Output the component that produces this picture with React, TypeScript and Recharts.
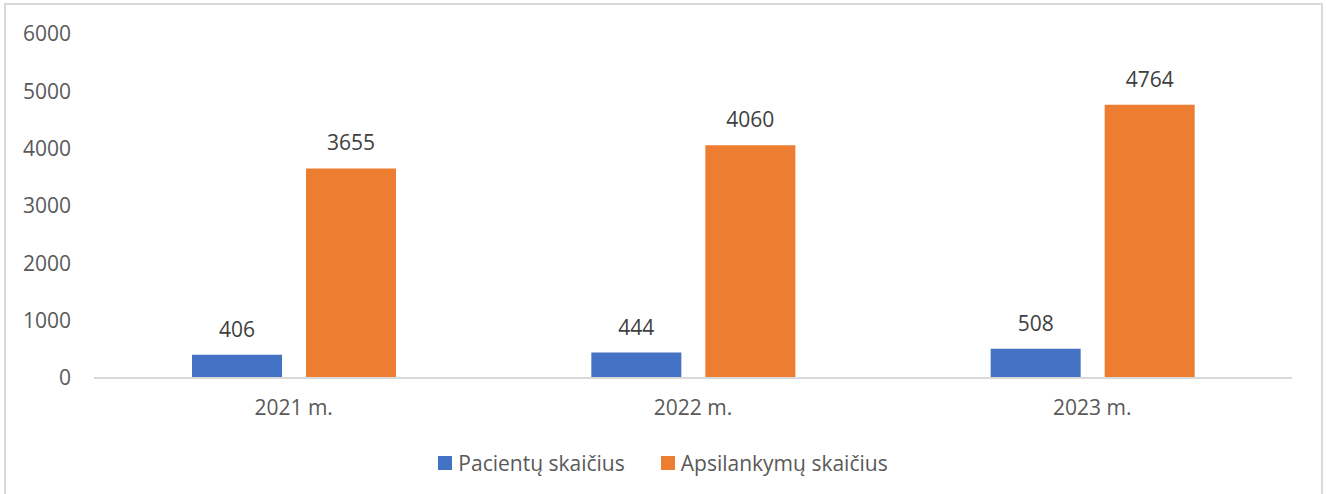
import React from 'react';
import { BarChart, Bar, XAxis, YAxis, Legend, LabelList } from 'recharts';

const categories = ['2021 m.', '2022 m.', '2023 m.'];
const patients = [406, 444, 508];
const visits = [3655, 4060, 4764];
const yTicks = [0, 1000, 2000, 3000, 4000, 5000, 6000];
const seriesNames = ['Pacientų skaičius', 'Apsilankymų skaičius'];
const seriesColors = ['#4472C4', '#ED7D31'];

const data = categories.map((c, i) => ({ name: c, a: patients[i], b: visits[i] }));

const FONT = '"Open Sans", sans-serif';
const FS = 21;

const LegendContent = () => {
  return (
    <div style={{ display: 'flex', justifyContent: 'center', alignItems: 'center', height: 30, fontFamily: FONT, fontSize: FS, color: '#595959' }}>
      {seriesNames.map((n, i) => (
        <div key={i} style={{ display: 'flex', alignItems: 'center', marginLeft: i === 0 ? 0 : 36 }}>
          <div style={{ width: 14, height: 14, background: seriesColors[i], marginRight: 6 }} />
          <span>{n}</span>
        </div>
      ))}
    </div>
  );
};

export default function App() {
  return (
    <div style={{ position: 'absolute', left: 0, top: 0, width: 1326, height: 494, overflow: 'hidden', background: '#fff' }}>
      <div style={{ position: 'absolute', left: 4, top: 3, width: 1319, height: 520, border: '2px solid #d9d9d9', boxSizing: 'border-box' }} />
      <div style={{ position: 'absolute', left: 0, top: 0 }}>
        <BarChart width={1326} height={494} data={data} margin={{ top: 34, right: 34, left: 0, bottom: 46 }} barSize={90} barGap={24}>
          <XAxis dataKey="name" height={40} axisLine={{ stroke: '#d9d9d9', strokeWidth: 2 }} tickLine={false} tickSize={0} tickMargin={22}
            tick={{ fill: '#595959', fontSize: FS, fontFamily: FONT }} />
          <YAxis width={94} domain={[0, 6000]} ticks={yTicks} axisLine={false} tickLine={false} tickSize={0} tickMargin={23}
            tick={{ fill: '#595959', fontSize: FS, fontFamily: FONT }} />
          <Legend verticalAlign="bottom" content={<LegendContent />} wrapperStyle={{ top: 448, left: 0, width: 1326, height: 30 }} />
          <Bar dataKey="a" name={seriesNames[0]} fill={seriesColors[0]} isAnimationActive={false}>
            <LabelList dataKey="a" position="top" offset={18} fill="#404040" fontSize={FS} fontFamily={FONT} />
          </Bar>
          <Bar dataKey="b" name={seriesNames[1]} fill={seriesColors[1]} isAnimationActive={false}>
            <LabelList dataKey="b" position="top" offset={18} fill="#404040" fontSize={FS} fontFamily={FONT} />
          </Bar>
        </BarChart>
      </div>
    </div>
  );
}
